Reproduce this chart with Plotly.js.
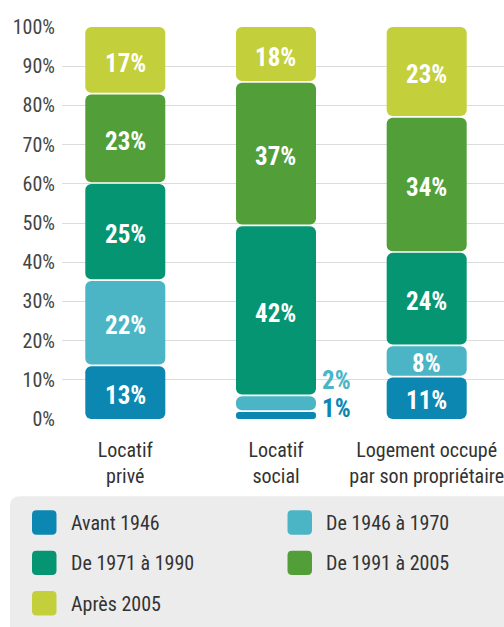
<!DOCTYPE html>
<html><head><meta charset="utf-8">
<script src="https://cdn.plot.ly/plotly-3.0.1.min.js"></script>
<style>html,body{margin:0;padding:0;background:#fff;overflow:hidden}#chart{width:504px;height:627px}</style>
</head><body><div id="chart"></div>
<script>
// ---- data ----
const categories = ['Locatif<br>privé', 'Locatif<br>social', 'Logement occupé<br>par son propriétaire'];
const seriesNames = ['Avant 1946', 'De 1946 à 1970', 'De 1971 à 1990', 'De 1991 à 2005', 'Après 2005'];
const avant1946   = [13.7, 2.0, 10.8];
const de1946a1970 = [21.7, 4.0, 8.0];
const de1971a1990 = [24.8, 43.4, 23.8];
const de1991a2005 = [22.8, 36.6, 34.5];
const apres2005   = [17.0, 14.0, 22.9];
const labelsAvant1946   = ['13%', '1%', '11%'];
const labelsDe1946a1970 = ['22%', '2%', '8%'];
const labelsDe1971a1990 = ['25%', '42%', '24%'];
const labelsDe1991a2005 = ['23%', '37%', '34%'];
const labelsApres2005   = ['17%', '18%', '23%'];
const colors = ['#0b87b2', '#4bb5c5', '#069572', '#529f3a', '#c3cf3b'];
const yTickVals = [0, 10, 20, 30, 40, 50, 60, 70, 80, 90, 100];

const values = [avant1946, de1946a1970, de1971a1990, de1991a2005, apres2005];
const labels = [labelsAvant1946, labelsDe1946a1970, labelsDe1971a1990, labelsDe1991a2005, labelsApres2005];

const NARROW = '"Liberation Sans Narrow", "Arial Narrow", "Roboto Condensed", "DejaVu Sans Condensed", sans-serif';
const W = 504, H = 627;
const L = 62, R = 0, T = 26.5, B = H - 419.5;
const plotW = W - L - R, plotH = H - T - B;
const px = x => (x - L) / plotW;
const py = y => (H - B - y) / plotH;

const xs = categories.map((_, i) => i);
const halfGap = 0.22, barW = 0.531;

const traces = [];
const annotations = [];
const cum = xs.map(() => 0);
values.forEach((vals, s) => {
  const bases = [], heights = [];
  vals.forEach((v, c) => {
    const lo = cum[c], hi = cum[c] + v;
    const loG = s === 0 ? lo : lo + halfGap;
    const hiG = s === values.length - 1 ? hi : hi - halfGap;
    bases.push(loG); heights.push(hiG - loG);
    cum[c] = hi;
    if (v >= 5) {
      annotations.push({x: c, y: (lo + hi) / 2, xref: 'x', yref: 'y', text: labels[s][c], showarrow: false,
        font: {family: NARROW, size: 25, color: '#ffffff', weight: 700}, xanchor: 'center', yanchor: 'middle',
        yshift: -3});
    } else {
      annotations.push({x: c, y: (lo + hi) / 2, xref: 'x', yref: 'y', text: labels[s][c], showarrow: false,
        font: {family: NARROW, size: 25, color: colors[s], weight: 700}, xanchor: 'left', yanchor: 'middle',
        xshift: 44, yshift: s === 0 ? 7 : 23});
    }
  });
  traces.push({type: 'bar', x: xs, base: bases, y: heights, width: barW,
    marker: {color: colors[s], cornerradius: 6, line: {width: 0}},
    showlegend: false, hoverinfo: 'skip', name: seriesNames[s]});
});

// ---- custom legend (grey box with rounded swatches) ----
function roundRect(x0, y0, x1, y1, r) {
  const X = px, Y = py;
  return `M ${X(x0 + r)},${Y(y0)} L ${X(x1 - r)},${Y(y0)} Q ${X(x1)},${Y(y0)} ${X(x1)},${Y(y0 + r)} ` +
         `L ${X(x1)},${Y(y1 - r)} Q ${X(x1)},${Y(y1)} ${X(x1 - r)},${Y(y1)} L ${X(x0 + r)},${Y(y1)} ` +
         `Q ${X(x0)},${Y(y1)} ${X(x0)},${Y(y1 - r)} L ${X(x0)},${Y(y0 + r)} Q ${X(x0)},${Y(y0)} ${X(x0 + r)},${Y(y0)} Z`;
}
const shapes = [{type: 'path', xref: 'paper', yref: 'paper', path: roundRect(10, 497, 520, 640, 10),
  fillcolor: '#ececec', line: {width: 0}, layer: 'below'}];
const legCols = [32, 287.5], legRows = [511, 551.5, 592];
seriesNames.forEach((name, i) => {
  const cx = legCols[i % 2], ry = legRows[Math.floor(i / 2)];
  shapes.push({type: 'path', xref: 'paper', yref: 'paper', path: roundRect(cx, ry, cx + 24.5, ry + 24.5, 4.5),
    fillcolor: colors[i], line: {width: 0}});
  annotations.push({xref: 'paper', yref: 'paper', x: px(cx + 36.5), y: py(ry + 12.5), text: name, showarrow: false,
    xanchor: 'left', yanchor: 'middle', font: {family: NARROW, size: 20, color: '#333333'}});
});

const layout = {
  width: W, height: H,
  margin: {l: L, r: R, t: T, b: B, pad: 0},
  paper_bgcolor: '#ffffff', plot_bgcolor: '#ffffff',
  barmode: 'overlay',
  font: {family: NARROW, size: 20, color: '#333333'},
  xaxis: {range: [-0.42, 2.513], tickvals: xs, ticktext: categories, showgrid: false, zeroline: false,
    showline: false, ticks: '', tickfont: {family: NARROW, size: 20, color: '#333333'}, ticklabelstandoff: 17,
    ticklabeloverflow: 'allow', fixedrange: true},
  yaxis: {range: [0, 100], tickvals: yTickVals, ticktext: yTickVals.map(v => v + '%'), showgrid: true,
    gridcolor: '#dcdcdc', gridwidth: 1, zeroline: false, showline: false, ticks: '',
    tickfont: {family: NARROW, size: 20, color: '#444444'}, ticklabelstandoff: 6, fixedrange: true},
  shapes: shapes,
  annotations: annotations,
  showlegend: false
};
Plotly.newPlot('chart', traces, layout, {staticPlot: true, displayModeBar: false});
</script>
</body></html>
